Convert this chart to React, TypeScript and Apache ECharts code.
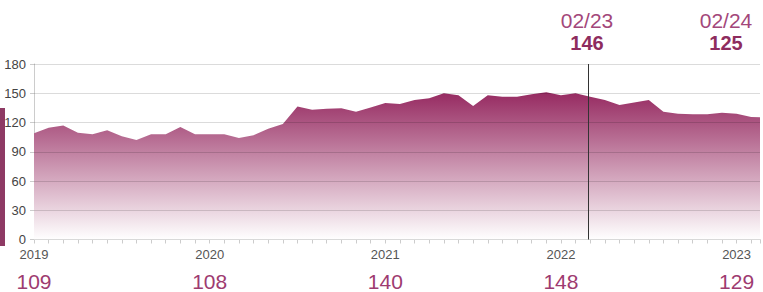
import React, { useEffect, useRef } from 'react';
import * as echarts from 'echarts';

const years = ['2019', '2020', '2021', '2022', '2023'];
const monthlyValues = [
  109, 114.5, 117, 109.5, 108, 112, 106, 102, 108, 108, 115.5, 108,
  108, 108, 104, 107, 113.5, 118.5, 136.5, 133, 134, 134.5, 131, 135.5,
  140, 139, 143, 145, 150, 148, 137, 148, 146.5, 146.5, 149, 151,
  148, 150, 146.5, 143, 138, 140.5, 143, 131, 129, 128.5, 128.5, 130,
  129, 125.7, 125,
];
const axisMaxIndex = 49.6;
const markerIndex = 37.9;
const gridValues = [30, 60, 90, 120, 150, 180];
const highlightDates = ['02/23', '02/24'];
const highlightValues = [146, 125];

const FONT = '"Liberation Sans", Arial, sans-serif';

export default function App() {
  const ref = useRef<HTMLDivElement>(null);
  useEffect(() => {
    const chart = echarts.init(ref.current!, null, { renderer: 'svg' });
    const headerX = [587, 726];
    chart.setOption({
      animation: false,
      textStyle: { fontFamily: FONT },
      grid: { left: 34, right: 0, top: 64, bottom: 51.5, containLabel: false },
      xAxis: {
        type: 'value',
        min: 0,
        max: axisMaxIndex,
        interval: 1,
        axisLine: { show: true, lineStyle: { color: '#cccccc' } },
        axisTick: { show: true, length: 4, lineStyle: { color: '#cccccc' } },
        splitLine: { show: false },
        axisLabel: {
          margin: 7,
          fontFamily: FONT,
          formatter: (v: number) => {
            if (Number.isInteger(v) && v % 12 === 0 && v / 12 < years.length) {
              return `{y|${years[v / 12]}}\n{v|${Math.round(monthlyValues[v])}}`;
            }
            return '';
          },
          rich: {
            y: { fontSize: 13, color: '#555555', lineHeight: 16, fontFamily: FONT },
            v: { fontSize: 21, color: '#9e3b70', lineHeight: 38, fontFamily: FONT },
          },
        },
      },
      yAxis: {
        type: 'value',
        min: 0,
        max: 180,
        interval: 30,
        axisLine: { show: true, lineStyle: { color: '#cccccc' } },
        axisTick: { show: true, length: 4, lineStyle: { color: '#cccccc' } },
        splitLine: { show: false },
        axisLabel: { fontSize: 13, color: '#444444', margin: 8, fontFamily: FONT },
      },
      series: [
        {
          type: 'line',
          data: monthlyValues.map((v, i) => [i, v]),
          symbol: 'none',
          lineStyle: { width: 0 },
          areaStyle: {
            opacity: 1,
            color: new echarts.graphic.LinearGradient(0, 0, 0, 1, [
              { offset: 0, color: '#962a61' },
              { offset: 1, color: '#ffffff' },
            ]),
          },
          markLine: {
            silent: true,
            symbol: ['none', 'none'],
            label: { show: false },
            data: [
              ...gridValues.map((g) => ({
                yAxis: g,
                lineStyle: { color: 'rgba(0,0,0,0.14)', width: 1, type: 'solid' },
              })),
              { xAxis: markerIndex, lineStyle: { color: '#333333', width: 1, type: 'solid' } },
            ],
          },
        },
      ],
      graphic: [
        {
          type: 'rect',
          shape: { x: 0, y: 108, width: 5, height: 138 },
          style: { fill: '#8e3a64' },
        },
        ...highlightDates.flatMap((d, i) => [
          {
            type: 'text',
            x: headerX[i],
            y: 20,
            style: {
              text: d,
              fontSize: 21,
              fontFamily: FONT,
              fill: '#a3477a',
              textAlign: 'center',
              textVerticalAlign: 'middle',
            },
          },
          {
            type: 'text',
            x: headerX[i],
            y: 43,
            style: {
              text: String(highlightValues[i]),
              fontSize: 20,
              fontWeight: 'bold',
              fontFamily: FONT,
              fill: '#8e2c5e',
              textAlign: 'center',
              textVerticalAlign: 'middle',
            },
          },
        ]),
      ],
    });
    return () => chart.dispose();
  }, []);
  return (
    <div
      ref={ref}
      style={{ position: 'absolute', left: 0, top: 0, width: 763, height: 292 }}
    />
  );
}
